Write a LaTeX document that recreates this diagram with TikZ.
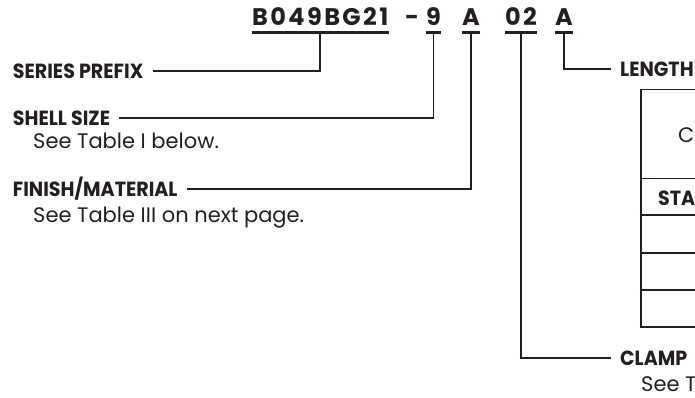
\documentclass[tikz,border=0pt]{standalone}
\usepackage{fontspec}
\setmainfont{Poppins}
\newfontfamily\lblfont[FakeStretch=0.93]{Poppins}
\newfontfamily\codefont[LetterSpace=10]{Poppins}
\usetikzlibrary{positioning}
\definecolor{ink}{RGB}{35,31,32}

\begin{document}
\begin{tikzpicture}[
  x=1pt, y=-1pt, color=ink,
  code/.style={inner sep=0pt, text depth=7.3pt, anchor=base west,
               font=\codefont\bfseries\fontsize{24}{24}\selectfont},
  lbl/.style={inner sep=0pt, anchor=base west,
              font=\lblfont\bfseries\fontsize{20.5}{20.5}\selectfont},
  sub/.style={inner sep=0pt, anchor=base west,
              font=\fontsize{21}{21}\selectfont},
  uline/.style={line width=3.3pt},
  conn/.style={line width=1.8pt, shorten >=9pt},
  tbl/.style={line width=1.6pt}
]
\useasboundingbox (0,0) rectangle (695,397);
\clip (0,0) rectangle (695,397);

% part number
\node[code] (prefix) at (252,25) {B049BG21};
\node[code] (dash)   at (405,25) {-};
\node[code] (size)   at (426,25) {9};
\node[code] (finish) at (462,25) {A};
\node[code] (clamp)  at (505,25) {02};
\node[code] (length) at (555,25) {A};
\foreach \n in {prefix,size,finish,clamp,length}
  \draw[uline] (\n.south west) -- (\n.south east);

% callouts
\node[lbl] (serieslbl) at (12.7,78.3)  {SERIES PREFIX};
\node[lbl] (shelllbl)  at (12.7,125)   {SHELL SIZE};
\node[sub] (shellsub)  at (33,148.5)   {See Table I below.};
\node[lbl] (finishlbl) at (12.7,196.7) {FINISH/MATERIAL};
\node[sub] (finishsub) at (33,222.7)   {See Table III on next page.};
\node[lbl] (lengthlbl) at (620,76)     {LENGTH};
\node[lbl] (clamplbl)  at (620,365)    {CLAMP};
\node[sub] (clampsub)  at (641,391)    {See T};

\draw[conn] (prefix.south) |- (serieslbl.east);
\draw[conn] (size.south)   |- (shelllbl.east);
\draw[conn] (finish.south) |- (finishlbl.east);
\draw[conn] (length.south) |- (lengthlbl.west);
\draw[conn] (clamp.south)  |- (clamplbl.west);

% table (cut at the right edge)
\draw[tbl] (641,89.3) rectangle (760,326.7);
\foreach \y in {178.3,215,252.7,290}
  \draw[tbl] (641,\y) -- (760,\y);
\node[sub, anchor=west] (tblhead) at (678,135) {C};
\node[lbl, anchor=west] (tblstd)  at (658,198.5) {STA};
\end{tikzpicture}
\end{document}
